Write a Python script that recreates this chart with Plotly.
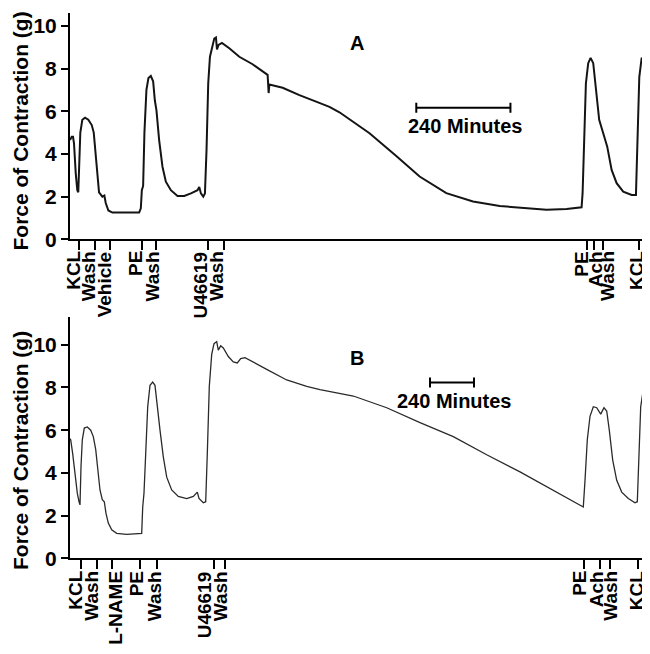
import plotly.graph_objects as go

# ---------------- data (minutes, grams) ----------------
A_time = [0, 4.3, 7.7, 10.2, 14.6, 18.6, 21.1, 23.7, 26.3, 31.4, 38.3, 46.7, 55.4, 60.5, 65.6,
          69.7, 74.0, 82.5, 87.6, 91.1, 97.8, 108.0, 142.2, 176.2, 180.5, 183.1, 186.4, 189.7,
          194.8, 199.9, 206.0, 211.9, 216.3, 220.3, 227.2, 235.7, 244.3, 257.1, 274.0, 291.1,
          308.2, 325.0, 329.4, 333.7, 339.6, 343.9, 348.0, 352.3, 356.7, 361.8, 367.7, 372.0,
          374.6, 378.6, 387.3, 406.0, 431.5, 465.4, 503.7, 506.3, 508.1, 542.0, 584.7, 627.3,
          661.3, 686.8, 763.4, 831.6, 891.1, 959.2, 1027.2, 1095.3, 1163.5, 1214.6, 1265.6,
          1303.9, 1306.5, 1309.8, 1314.9, 1320.8, 1326.9, 1333.6, 1340.4, 1348.8, 1359.1,
          1369.3, 1380.5, 1393.3, 1410.1, 1431.6, 1442.5, 1445.9, 1451.0, 1457.1, 1465.5, 1478.3]
A_force = [4.65, 4.8, 4.8, 4.5, 3.1, 2.3, 2.2, 3.9, 5.0, 5.6, 5.7, 5.6, 5.35, 5.0, 3.9,
           2.8, 2.2, 2.0, 2.05, 1.7, 1.35, 1.25, 1.25, 1.25, 1.45, 2.3, 2.5, 5.0,
           7.0, 7.55, 7.65, 7.4, 6.5, 6.05, 4.65, 3.4, 2.7, 2.3, 2.03, 2.03,
           2.15, 2.3, 2.45, 2.15, 2.0, 2.15, 4.2, 7.3, 8.55, 9.0, 9.4, 9.45,
           8.9, 9.1, 9.2, 8.95, 8.55, 8.2, 7.7, 6.85, 7.25, 7.1, 6.75, 6.45,
           6.2, 5.95, 4.97, 3.9, 2.94, 2.16, 1.77, 1.56, 1.45, 1.38, 1.42,
           1.5, 2.16, 4.2, 7.3, 8.25, 8.5, 8.25, 7.15, 5.6, 4.97,
           4.34, 3.25, 2.63, 2.23, 2.08, 2.08, 4.2, 7.6, 8.5, 8.3, 8.1]

B_time = [0, 14.7, 25.6, 38.2, 50.7, 60.0, 65.5, 70.9, 78.0, 88.9, 105.3, 123.8, 138.0, 151.1,
          162.0, 174.5, 187.1, 198.0, 207.3, 219.8, 238.4, 265.6, 320.2, 402.0, 407.5, 414.5,
          423.8, 434.7, 447.3, 462.0, 474.5, 487.1, 501.8, 519.8, 538.4, 565.6, 601.6, 647.5,
          683.5, 705.3, 714.5, 738.0, 751.1, 759.8, 770.7, 783.8, 796.4, 811.1, 819.8, 832.9,
          847.1, 874.4, 901.6, 923.5, 942.0, 965.5, 1010.7, 1083.8, 1192.9, 1302.0, 1374.5,
          1556.2, 1738.4, 1920.0, 2101.6, 2283.8, 2465.5, 2647.1, 2756.2, 2810.7, 2820.0,
          2832.5, 2847.3, 2865.3, 2883.8, 2905.6, 2923.6, 2938.4, 2952.5, 2971.1, 2992.9,
          3020.2, 3056.2, 3092.7, 3105.3, 3114.5, 3123.8, 3138.0, 3156.5, 3174.5]
B_force = [5.7, 5.55, 4.9, 3.8, 3.05, 2.65, 2.5, 4.3, 5.55, 6.1, 6.15, 6.0, 5.7, 5.1,
           4.15, 3.2, 2.75, 2.65, 2.1, 1.65, 1.33, 1.17, 1.12, 1.17, 2.4, 3.05,
           4.9, 7.1, 8.1, 8.25, 8.1, 7.25, 6.0, 4.75, 3.8, 3.2, 2.9, 2.8,
           2.9, 3.1, 2.8, 2.6, 2.65, 4.9, 8.05, 9.55, 10.05, 10.15, 9.75, 9.95,
           9.85, 9.45, 9.2, 9.15, 9.35, 9.4, 9.2, 8.85, 8.35, 8.05, 7.9,
           7.6, 7.05, 6.35, 5.7, 4.85, 4.05, 3.2, 2.65, 2.4, 3.65,
           5.55, 6.65, 7.1, 7.05, 6.75, 7.05, 6.9, 6.0, 4.6, 3.65,
           3.1, 2.8, 2.6, 2.65, 4.9, 7.1, 7.9, 8.0, 7.8]

A_event_time = [23.0, 63.8, 102.1, 183.8, 219.6, 351.1, 391.9, 1317.5, 1335.4, 1357.6, 1451.0]
A_event_label = ["KCL", "Wash", "Vehicle", "PE", "Wash", "U46619", "Wash", "PE", "Ach", "Wash", "KCL"]
A_label_shift = [-5, -7, -6, -6, -4, -7, -7, -5, 1, 5, -2]

B_event_time = [70.9, 155.5, 237.3, 390.0, 485.5, 793.6, 856.4, 2814.5, 2901.8, 2953.6, 3106.4]
B_event_label = ["KCL", "Wash", "L-NAME", "PE", "Wash", "U46619", "Wash", "PE", "Ach", "Wash", "KCL"]
B_label_shift = [-5, -5, 4, -3, -3, -9, -5, -4, -4, 1, -1]

SCALE_MIN = 240
A_bar_start, A_bar_y = 882.6, 6.16
B_bar_start, B_bar_y = 1974.5, 8.23

A_range = [0, 1478.3]
B_range = [0, 3174.5]
Y_TICKS = [0, 2, 4, 6, 8, 10]

# ---------------- figure ----------------
OFF = 8                     # page body margin in the browser
W, H = 650 - OFF, 654 - OFF
FONT = "Liberation Sans, Arial, sans-serif"


def px_x(p):
    return (p - OFF) / W


def px_y(p):
    return 1 - (p - OFF) / H


fig = go.Figure()
fig.add_trace(go.Scatter(x=A_time, y=A_force, mode="lines",
                         line=dict(color="#141414", width=2), xaxis="x", yaxis="y",
                         showlegend=False, hoverinfo="skip"))
fig.add_trace(go.Scatter(x=B_time, y=B_force, mode="lines",
                         line=dict(color="#2a2a2a", width=1.3), xaxis="x2", yaxis="y2",
                         showlegend=False, hoverinfo="skip"))


def yaxis(domain, rng):
    return dict(domain=domain, range=rng, tickvals=Y_TICKS, ticks="outside", ticklen=7,
                tickwidth=2, tickcolor="black", showline=True, linewidth=2, linecolor="black",
                showgrid=False, zeroline=False, automargin=False,
                tickfont=dict(family=FONT, size=21, color="black", weight="bold"))


def xaxis(domain, rng, ticks, anchor):
    return dict(domain=domain, range=rng, tickvals=ticks, ticks="outside", ticklen=9,
                tickwidth=1.5, tickcolor="black", showticklabels=False, showline=True,
                linewidth=2, linecolor="black", showgrid=False, zeroline=False,
                anchor=anchor, automargin=False)


fig.update_layout(
    width=W, height=H, margin=dict(l=0, r=0, t=0, b=0),
    paper_bgcolor="white", plot_bgcolor="white",
    xaxis=xaxis([px_x(70), 1.0], A_range, A_event_time, "y"),
    yaxis=yaxis([px_y(239.3), px_y(13)], [0, 10.6]),
    xaxis2=xaxis([px_x(68), 1.0], B_range, B_event_time, "y2"),
    yaxis2=yaxis([px_y(558.3), px_y(317)], [0, 11.3]),
)

ann = []
shapes = []
lab_font = dict(family=FONT, size=19, color="black", weight="bold")
big_font = dict(family=FONT, size=20, color="black", weight="bold")
title_font = dict(family=FONT, size=21, color="black", weight="bold")

for xr, yr, times, labels, shifts, ysh in [
    ("x", "y", A_event_time, A_event_label, A_label_shift, -10),
    ("x2", "y2", B_event_time, B_event_label, B_label_shift, -11),
]:
    for t, lab, s in zip(times, labels, shifts):
        ann.append(dict(x=t, y=0, xref=xr, yref=yr, text=lab, showarrow=False,
                        textangle=-90, xanchor="center", yanchor="top", xshift=s,
                        yshift=ysh, font=lab_font))

# y-axis titles
for yc in [px_y(131.5), px_y(451)]:
    ann.append(dict(x=px_x(20), y=yc, xref="paper", yref="paper",
                    text="Force of Contraction (g)", showarrow=False, textangle=-90,
                    xanchor="center", yanchor="middle", font=title_font))

# panel letters
ann.append(dict(x=731, y=9.19, xref="x", yref="y", text="A", showarrow=False, font=big_font))
ann.append(dict(x=1574.7, y=9.38, xref="x2", yref="y2", text="B", showarrow=False, font=big_font))

# scale bars
for xr, yr, x0, yb in [("x", "y", A_bar_start, A_bar_y), ("x2", "y2", B_bar_start, B_bar_y)]:
    x1 = x0 + SCALE_MIN
    shapes.append(dict(type="line", xref=xr, yref=yr, x0=x0, x1=x1, y0=yb, y1=yb,
                       line=dict(color="black", width=2)))
    for xe in (x0, x1):
        shapes.append(dict(type="line", xref=xr, yref=yr, x0=xe, x1=xe, ysizemode="pixel",
                           yanchor=yb, y0=-5, y1=5, line=dict(color="black", width=2)))
    ann.append(dict(x=(x0 + x1) / 2, y=yb, xref=xr, yref=yr, text=f"{SCALE_MIN} Minutes",
                    showarrow=False, xanchor="center", yanchor="top", yshift=-5, xshift=2,
                    font=big_font))

fig.update_layout(annotations=ann, shapes=shapes)
fig.write_html("out.html")
